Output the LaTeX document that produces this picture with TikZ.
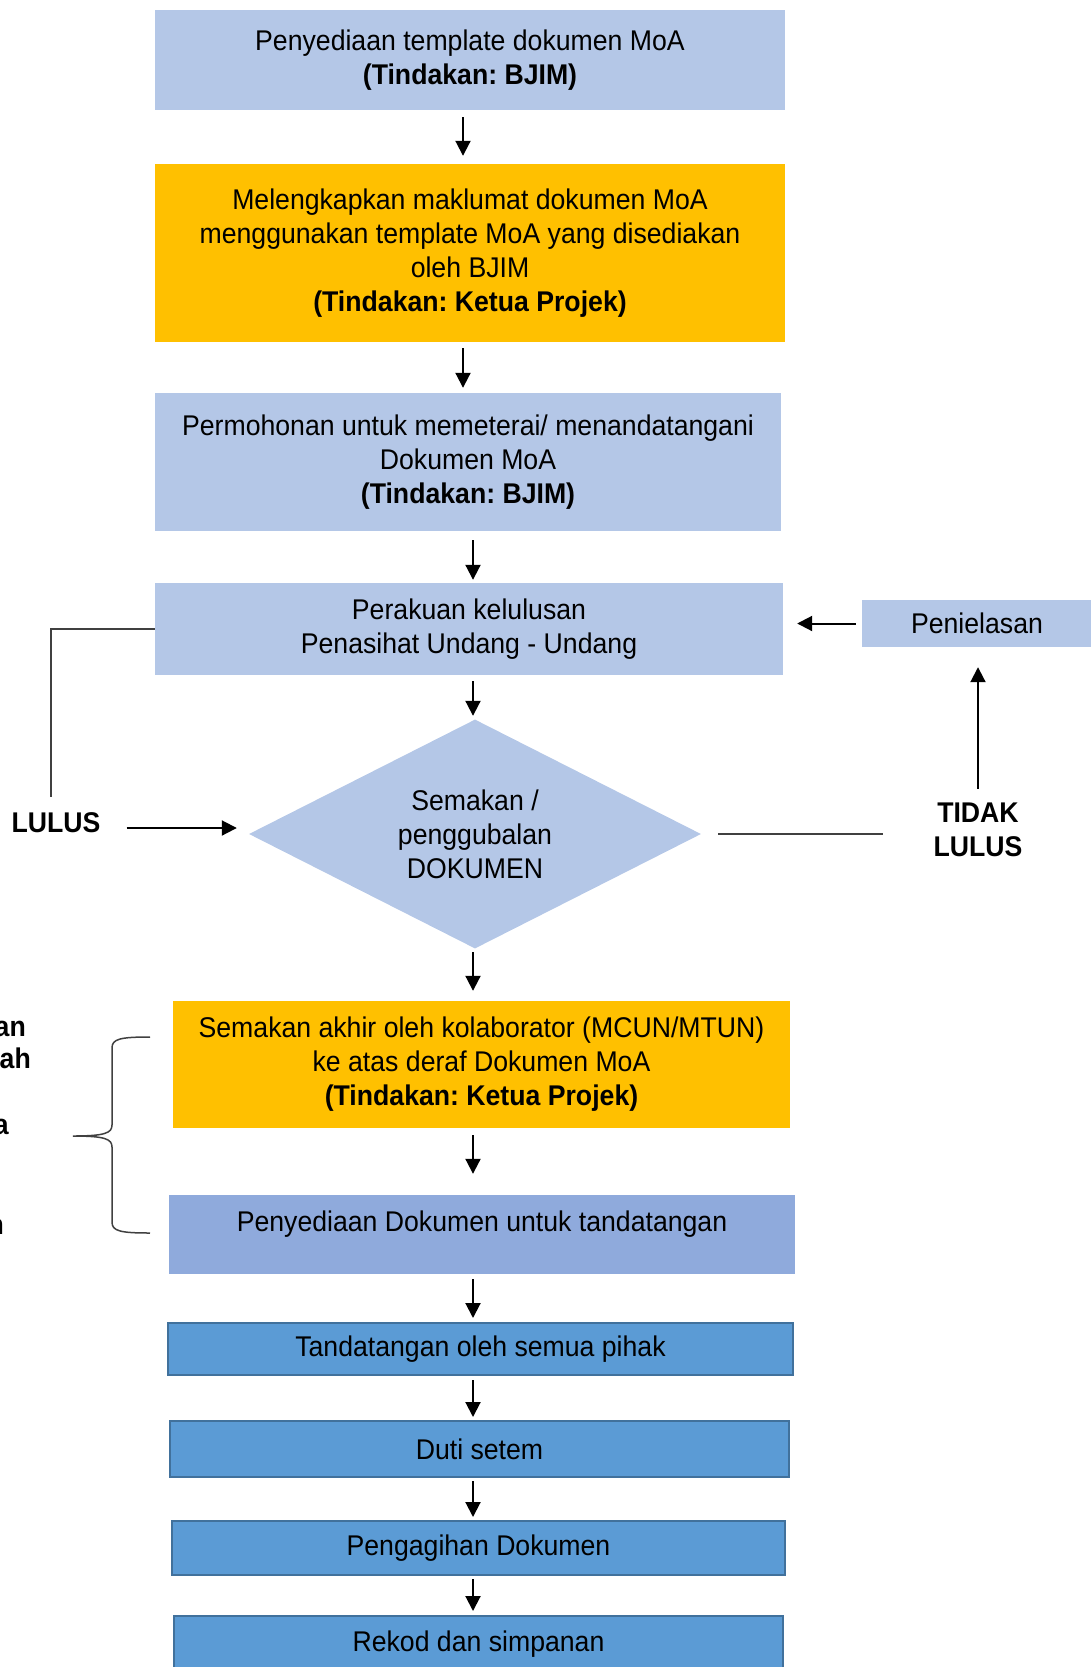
\documentclass[tikz,border=0pt]{standalone}
\usepackage{fontspec}
\setmainfont{Liberation Sans}[FakeStretch=0.935]
\usetikzlibrary{arrows.meta,shapes.geometric}
\definecolor{lb}{HTML}{B4C7E7}
\definecolor{orng}{HTML}{FFC000}
\definecolor{mb}{HTML}{8FAADC}
\definecolor{db}{HTML}{5B9BD5}
\definecolor{dbb}{HTML}{41719C}
\definecolor{gl}{HTML}{404040}
\frenchspacing
\begin{document}
\begin{tikzpicture}[x=1pt,y=-1pt,
  every node/.style={font=\fontsize{28.5}{34}\selectfont, text=black},
  box/.style={rectangle, draw=none, inner sep=0pt, align=center},
  lbox/.style={box, fill=lb},
  obox/.style={box, fill=orng},
  dbox/.style={box, fill=db, draw=dbb, line width=2pt},
  lbl/.style={inner sep=0pt, align=center, font=\fontsize{28.5}{34}\selectfont\bfseries},
  arr/.style={line width=2pt, -{Triangle[length=15pt,width=15pt]}},
  gline/.style={line width=1.5pt, draw=gl},
]
\useasboundingbox (0,0) rectangle (1090,1667);
\coordinate (xa) at (463,0);
\coordinate (xb) at (473,0);
\coordinate (xt) at (978,0);

\node[lbox, minimum width=630, minimum height=100] (b1) at (470,60)
  {Penyediaan template dokumen MoA\\\textbf{(Tindakan: BJIM)}};
\node[obox, minimum width=630, minimum height=178] (b2) at (470,253)
  {Melengkapkan maklumat dokumen MoA\\menggunakan template MoA yang disediakan\\oleh BJIM\\\textbf{(Tindakan: Ketua Projek)}};
\node[lbox, minimum width=626, minimum height=138] (b3) at (468,462)
  {Permohonan untuk memeterai/ menandatangani\\Dokumen MoA\\\textbf{(Tindakan: BJIM)}};
\node[lbox, minimum width=628, minimum height=92] (b4) at (469,629)
  {Perakuan kelulusan\\Penasihat Undang - Undang};
\node[lbox, minimum width=230, minimum height=47] (pen) at (977,623.5) {Penielasan};
\node[diamond, aspect=2, fill=lb, inner sep=0pt, align=center, minimum width=452, minimum height=229] (dia) at (475,834)
  {Semakan /\\penggubalan\\DOKUMEN};
\node[obox, minimum width=617, minimum height=127] (b5) at (481.5,1064.5)
  {Semakan akhir oleh kolaborator (MCUN/MTUN)\\ke atas deraf Dokumen MoA\\\textbf{(Tindakan: Ketua Projek)}};
\node[box, fill=mb, minimum width=626, minimum height=79] (b6) at (482,1234.5) {};
\node[inner sep=0pt] (b6t) at ([yshift=10pt]b6.center) {Penyediaan Dokumen untuk tandatangan};
\node[dbox, minimum width=625, minimum height=52] (b7) at (480.5,1349) {Tandatangan oleh semua pihak};
\node[dbox, minimum width=619, minimum height=56] (b8) at (479.5,1449) {Duti setem};
\node[dbox, minimum width=613, minimum height=54] (b9) at (478.5,1548) {Pengagihan Dokumen};
\node[dbox, minimum width=609, minimum height=56] (b10) at (478.5,1644) {Rekod dan simpanan};

\node[lbl] (lulus) at (56,823) {LULUS};
\node[lbl] (tl) at (978,830) {TIDAK\\LULUS};
\coordinate (lcorner) at (51,797);
\coordinate (rend) at (883,834);

\node[lbl, anchor=base east] (f1) at (26,1036) {an};
\node[lbl, anchor=base east] (f2) at (31,1068) {ah};
\node[lbl, anchor=base east] (f3) at (9,1134) {a};
\node[lbl, anchor=base east] (f4) at (4,1234) {n};

% main flow arrows
\draw[arr, shorten <=7pt, shorten >=8pt] (b1.south -| xa) -- (b2.north -| xa);
\draw[arr, shorten <=6pt, shorten >=5pt] (b2.south -| xa) -- (b3.north -| xa);
\draw[arr, shorten <=9pt, shorten >=3pt] (b3.south -| xb) -- (b4.north -| xb);
\draw[arr, shorten <=6pt, shorten >=3.5pt] (b4.south -| xb) -- (dia.north -| xb);
\draw[arr, shorten <=3.5pt, shorten >=10pt] (dia.south -| xb) -- (b5.north -| xb);
\draw[arr, shorten <=7pt, shorten >=21pt] (b5.south -| xb) -- (b6.north -| xb);
\draw[arr, shorten <=5pt, shorten >=4pt] (b6.south -| xb) -- (b7.north -| xb);
\draw[arr, shorten <=4pt, shorten >=3pt] (b7.south -| xb) -- (b8.north -| xb);
\draw[arr, shorten <=3pt, shorten >=3pt] (b8.south -| xb) -- (b9.north -| xb);
\draw[arr, shorten <=3pt, shorten >=4pt] (b9.south -| xb) -- (b10.north -| xb);

% side connectors
\draw[arr, shorten <=6pt, shorten >=14pt] (pen.west) -- (pen.west -| b4.east);
\draw[arr, shorten <=14pt, shorten >=20pt] (tl.north -| xt) -- (pen.south -| xt);
\draw[gline, shorten <=17pt] (dia.east) -- (rend);
\draw[gline] (b4.west) -| (lcorner);
\draw[arr, shorten <=26pt, shorten >=12pt] ([yshift=-5pt]lulus.east) -- ([yshift=-5pt]lulus.east -| dia.west);

% brace
\draw[gline] (150,1037) .. controls (120,1037) and (112,1039) .. (112,1048) -- (112,1125)
  .. controls (112,1133) and (105,1136) .. (73,1136)
  .. controls (105,1136) and (112,1139) .. (112,1147) -- (112,1222)
  .. controls (112,1231) and (120,1233) .. (150,1233);
\end{tikzpicture}
\end{document}
